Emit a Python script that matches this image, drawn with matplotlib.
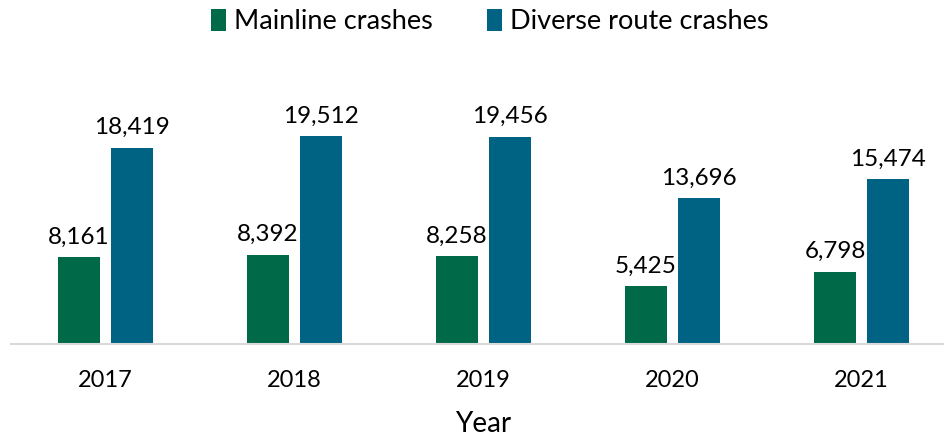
import matplotlib.pyplot as plt
import numpy as np

years = ["2017", "2018", "2019", "2020", "2021"]
mainline = [8161, 8392, 8258, 5425, 6798]
diverse = [18419, 19512, 19456, 13696, 15474]

green = "#006a48"
blue = "#006384"

plt.rcParams['font.family'] = ['Lato', 'DejaVu Sans']

fig = plt.figure(figsize=(9.45, 4.37), dpi=100)
ax = fig.add_axes([11 / 945, 93 / 437, 945 / 945, 266 / 437])

x = np.arange(len(years))
w = 0.222
off = 0.14
b1 = ax.bar(x - off, mainline, w, color=green, label="Mainline crashes")
b2 = ax.bar(x + off, diverse, w, color=blue, label="Diverse route crashes")

for bars, vals in ((b1, mainline), (b2, diverse)):
    for b, v in zip(bars, vals):
        ax.annotate(f"{v:,}", (b.get_x() + b.get_width() / 2, v),
                    xytext=(0, 7), textcoords="offset points",
                    ha="center", va="bottom", fontsize=17.5)

ax.set_xlim(-0.5, 4.5)
ax.set_ylim(0, 25000)
ax.set_xticks(x)
ax.set_xticklabels(years, fontsize=17)
ax.tick_params(axis="x", length=0, pad=19)
ax.set_yticks([])
ax.set_xlabel("Year", fontsize=20, labelpad=14)
for s in ["top", "right", "left"]:
    ax.spines[s].set_visible(False)
ax.spines["bottom"].set_color("#d9d9d9")
ax.spines["bottom"].set_linewidth(1.5)

fig.legend(loc="upper center", bbox_to_anchor=(0.518, 1.035), ncol=2, frameon=False,
           fontsize=19.5, handlelength=0.55, handleheight=0.85, handletextpad=0.3,
           columnspacing=2.0)

fig.savefig("out.png", dpi=100)
